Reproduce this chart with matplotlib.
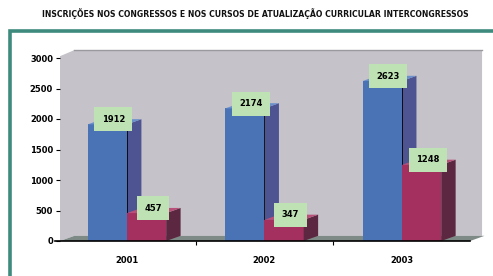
import matplotlib
matplotlib.use("Agg")
import matplotlib.pyplot as plt
from matplotlib.patches import Polygon, Rectangle

# 데이터
years = ["2001", "2002", "2003"]
congressos = [1912, 2174, 2623]
cursos = [457, 347, 1248]
y_ticks = [0, 500, 1000, 1500, 2000, 2500, 3000]
title = "INSCRIÇÕES NOS CONGRESSOS E NOS CURSOS DE ATUALIZAÇÃO CURRICULAR INTERCONGRESSOS"

# 색상
BLUE = ("#4a73b6", "#4e5391", "#6a8fcc")
RED = ("#a3305f", "#5c2740", "#b8507a")
WALL = "#c5c3c9"
FLOOR = "#7e8a86"
LABEL_BG = "#bfe2b5"

W = 0.285      # 막대 폭
DX = 0.105     # 깊이 (x)
DY = 85        # 깊이 (y)
XL, XR = -0.487, 2.618

fig = plt.figure(figsize=(4.93, 2.76), dpi=100)
fig.patch.set_facecolor("white")

# 바깥 테두리
fig.patches.append(Rectangle((0.0193, -0.2), 1.2, 0.2 + 0.886, transform=fig.transFigure,
                             fill=False, edgecolor="#3e8a7c", linewidth=2.6))
fig.text(42 / 493, 1 - 14 / 276, title, fontsize=5.6, fontweight="bold", va="center",
         ha="left", color="#111111")

ax = fig.add_axes([60 / 493, 35 / 276, 427 / 493, 183 / 276])
ax.set_xlim(XL, XR)
ax.set_ylim(0, 3000)
for s in ax.spines.values():
    s.set_visible(False)
ax.patch.set_visible(False)

# 벽과 바닥
xr_wall = 2.582
ax.add_patch(Polygon([(XL, 0), (XL, 3030), (XL + DX, 3130), (xr_wall, 3130),
                      (xr_wall, DY), (XL + DX, DY)], closed=True,
                     facecolor=WALL, edgecolor="none", clip_on=False, zorder=0))
ax.plot([XL + DX, xr_wall], [3130, 3130], color="#9a9a9e", lw=1, clip_on=False, zorder=0.5)
ax.add_patch(Polygon([(XL, 0), (XL + DX, DY), (2.6, DY), (2.495, 0)], closed=True,
                     facecolor=FLOOR, edgecolor="none", clip_on=False, zorder=0.6))
ax.plot([XL - 0.035, 2.495], [0, 0], color="black", lw=1.2, clip_on=False, zorder=5)


def bar3d(x0, h, cols, z):
    front, side, top = cols
    ax.add_patch(Rectangle((x0, 0), W, h, facecolor=front, edgecolor="none", zorder=z, clip_on=False))
    ax.add_patch(Polygon([(x0 + W, 0), (x0 + W + DX, DY), (x0 + W + DX, h + DY), (x0 + W, h)],
                         closed=True, facecolor=side, edgecolor="none", zorder=z, clip_on=False))
    ax.add_patch(Polygon([(x0, h), (x0 + DX, h + DY), (x0 + W + DX, h + DY), (x0 + W, h)],
                         closed=True, facecolor=top, edgecolor="none", zorder=z, clip_on=False))


box = dict(boxstyle="square,pad=0.9", facecolor=LABEL_BG, edgecolor="none")
for i, (a, b) in enumerate(zip(congressos, cursos)):
    bar3d(i - W, a, BLUE, 2 + i)
    bar3d(i, b, RED, 2.5 + i)
    ax.plot([i, i], [0, a], color="black", lw=0.6, zorder=2.4 + i)
    ax.text(i - 0.10, a + 80, str(a), fontsize=6, fontweight="bold", ha="center", va="center",
            zorder=10, bbox=box)
    ax.text(i + 0.19, b + 80, str(b), fontsize=6, fontweight="bold", ha="center", va="center",
            zorder=10, bbox=box)

ax.set_yticks(y_ticks)
ax.set_yticklabels([str(t) for t in y_ticks])
ax.set_xticks(range(len(years)))
ax.set_xticklabels(years)
ax.set_xticks([0.5, 1.5], minor=True)
ax.tick_params(axis="y", length=3, width=0.8, pad=2, labelsize=6)
ax.tick_params(axis="x", which="major", length=0, pad=11, labelsize=6)
ax.tick_params(axis="x", which="minor", length=3, width=0.8)
for lab in ax.get_xticklabels() + ax.get_yticklabels():
    lab.set_fontweight("bold")

fig.savefig("out.png", dpi=100)
